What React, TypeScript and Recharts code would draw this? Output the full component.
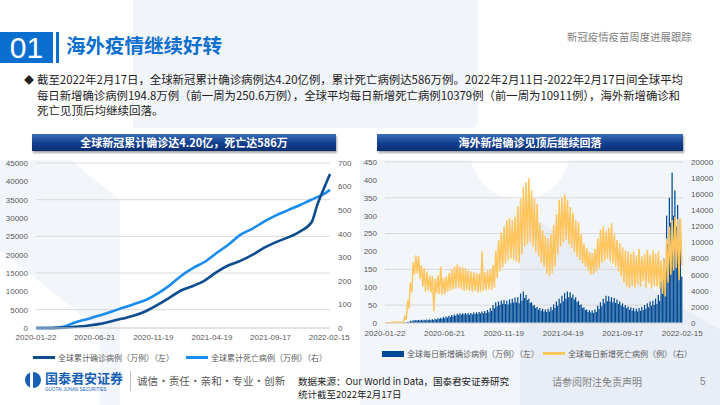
import React from "react";
import { ComposedChart, Line, Bar, XAxis, YAxis, CartesianGrid } from "recharts";

const BLUE = "#0b6fd0";
const CJK = '"Noto Sans CJK SC", "Noto Sans", sans-serif';
const NUM = '"Liberation Sans", "Noto Sans", sans-serif';

// x 轴：自 2020-01-22 起的天数
const tickDays = [0, 151, 302, 453, 604, 755];
const tickLabels = ["2020-01-22", "2020-06-21", "2020-11-19", "2021-04-19", "2021-09-17", "2022-02-15"];

// 左图：累计（万例）
const cumDays = [0, 10, 39, 70, 100, 131, 161, 192, 223, 253, 284, 314, 345, 376, 404, 435, 465, 496, 526, 557, 588, 618, 649, 679, 710, 724, 741, 757];
const cumCases = [0.06, 1.2, 8.8, 93, 340, 630, 1060, 1780, 2560, 3400, 4650, 6350, 8380, 10370, 11460, 13000, 15250, 17100, 18300, 19920, 21900, 23430, 24700, 26300, 28900, 33500, 38000, 42000];
const cumDeaths = [0.002, 0.03, 0.3, 4.7, 23.5, 37.5, 51.5, 68, 85.5, 101.5, 120, 147, 182, 224, 254, 281, 318, 354, 395, 421, 452, 478, 500, 521, 545, 555, 568, 586];

// 右图：每周两点（周中高点 / 周末低点）
const caseHi = [
  0.1, 0.3, 0.4, 1.5, 0.2, 0.2, 0.3, 1.5, 3.0, 6.0,
  8.0, 8.5, 8.5, 8.8, 9.0, 9.5, 10.0, 10.5, 12.0, 13.5,
  14.5, 16.5, 18.0, 20.0, 22.5, 24.0, 26.0, 27.0, 27.5, 28.0,
  27.5, 28.0, 29.0, 30.0, 31.0, 32.0, 33.5, 36.0, 41.0, 50.0,
  58.0, 60.0, 63.0, 64.0, 62.0, 66.0, 68.0, 71.0, 72.0, 82.0,
  88.0, 78.0, 68.0, 58.0, 50.0, 45.0, 42.0, 40.0, 38.0, 40.0,
  45.0, 52.0, 60.0, 68.0, 76.0, 84.0, 88.0, 86.0, 80.0, 72.0,
  62.0, 52.0, 44.0, 38.0, 36.0, 35.0, 38.0, 48.0, 58.0, 68.0,
  76.0, 75.0, 72.0, 70.0, 66.0, 60.0, 55.0, 50.0, 46.0, 44.0,
  42.0, 40.0, 42.0, 45.0, 50.0, 55.0, 60.0, 62.0, 68.0, 78.0,
  115, 180, 300, 350, 420, 370, 330, 290,
];
const caseLo = [
  0.06, 0.2, 0.3, 0.4, 0.1, 0.1, 0.2, 1.0, 2.2, 4.5,
  6.5, 7.0, 7.0, 7.2, 7.5, 7.8, 8.0, 8.5, 9.5, 11.0,
  12.0, 13.5, 15.0, 17.0, 19.0, 20.5, 22.0, 23.0, 23.5, 24.0,
  23.0, 24.0, 25.0, 26.0, 27.0, 27.0, 28.0, 30.0, 34.0, 41.0,
  47.0, 50.0, 54.0, 53.0, 52.0, 55.0, 57.0, 58.0, 55.0, 62.0,
  70.0, 64.0, 56.0, 48.0, 42.0, 37.0, 34.0, 32.0, 31.0, 32.0,
  36.0, 42.0, 48.0, 55.0, 61.0, 68.0, 72.0, 71.0, 66.0, 59.0,
  50.0, 42.0, 36.0, 31.0, 29.0, 28.0, 31.0, 39.0, 47.0, 55.0,
  61.0, 60.0, 58.0, 56.0, 53.0, 49.0, 45.0, 41.0, 37.0, 35.0,
  33.0, 32.0, 34.0, 36.0, 40.0, 44.0, 48.0, 50.0, 54.0, 62.0,
  90, 130, 220, 280, 300, 270, 190, 130,
];
const deathHi = [
  20, 45, 70, 110, 150, 130, 90, 800, 2800, 5000,
  7500, 8400, 8300, 7200, 6800, 6400, 5900, 5800, 5500, 5900,
  7000, 5600, 5800, 6200, 6600, 7000, 7300, 7000, 6900, 6800,
  6500, 6400, 6300, 6200, 6100, 8900, 6300, 6500, 6700, 7200,
  9000, 10300, 11200, 12000, 12800, 13000, 12800, 13200, 14500, 15500,
  16900, 17500, 18000, 16500, 15500, 14800, 12400, 11500, 10800, 10500,
  11000, 12200, 13500, 15300, 15600, 16000, 15300, 14400, 13700, 12800,
  12500, 11000, 9900, 9300, 8800, 8700, 9200, 10500, 11600, 12000,
  11500, 11800, 12400, 11000, 10300, 9900, 9400, 9000, 8900, 8600,
  8900, 8400, 9200, 8300, 8600, 9100, 8500, 9000, 8600, 8900,
  7800, 8000, 10500, 12000, 12800, 13200, 12900, 13000,
];
const deathLo = [
  10, 30, 50, 80, 100, 90, 60, 400, 1800, 3800,
  6000, 6200, 5500, 4500, 3900, 4000, 3800, 1500, 3700, 3600,
  3500, 3600, 3900, 4000, 4200, 4300, 4400, 4200, 4000, 4100,
  4000, 3900, 4000, 3800, 3900, 4000, 4100, 4200, 4100, 4400,
  5600, 6400, 6900, 7400, 7800, 8000, 7800, 7600, 7500, 8500,
  9500, 9800, 10000, 9500, 8800, 8300, 7500, 7000, 6100, 5800,
  6200, 7000, 8500, 9500, 10000, 10300, 9800, 9300, 8800, 8200,
  7800, 7400, 7000, 6500, 6000, 6100, 6400, 6800, 7500, 7700,
  8000, 7600, 7400, 7000, 6400, 5800, 5000, 4500, 4300, 4600,
  4400, 4800, 4500, 5200, 4400, 4900, 4300, 4600, 4500, 4300,
  3600, 3300, 5000, 6000, 6500, 6800, 5300, 7200,
];

const cumData = cumDays.map((day, i) => ({ day, cases: cumCases[i], deaths: cumDeaths[i] }));

const dailyData: { day: number; cases: number; deaths: number }[] = [];
caseHi.forEach((_, w) => {
  dailyData.push({ day: w * 7 + 1.5, cases: caseHi[w], deaths: deathHi[w] });
  dailyData.push({ day: w * 7 + 5, cases: caseLo[w], deaths: deathLo[w] });
});

const tickStyle = { fontSize: 8, fill: "#595959", fontFamily: NUM };
const fmtDay = (v: number) => tickLabels[tickDays.indexOf(v)] ?? "";

const Banner = ({ left, width, text }: { left: number; width: number; text: string }) => (
  <div
    style={{
      position: "absolute",
      left,
      top: 134,
      width,
      height: 17,
      background: "linear-gradient(#3b6cb8, #123f8e 55%, #0a2f72)",
      boxShadow: "1px 2px 2px rgba(0,0,0,0.35)",
      color: "#fff",
      fontSize: 11,
      fontWeight: 700,
      lineHeight: "17px",
      textAlign: "center",
      fontFamily: CJK,
    }}
  >
    {text}
  </div>
);

const LegendItem = ({ left, top, kind, color, text }: { left: number; top: number; kind: "line" | "box"; color: string; text: string }) => (
  <div style={{ position: "absolute", left, top, display: "flex", alignItems: "center", whiteSpace: "nowrap" }}>
    <div style={{ width: 22, height: kind === "line" ? 3 : 6, background: color, marginRight: 3 }} />
    <span style={{ fontSize: 8, color: "#595959", fontFamily: CJK }}>{text}</span>
  </div>
);

export default function App() {
  return (
    <div style={{ position: "absolute", left: 0, top: 0, width: 720, height: 405, overflow: "hidden", background: "#fff", fontFamily: CJK }}>
      <svg width={720} height={405} style={{ position: "absolute", left: 0, top: 0 }}>
        <rect x={133} y={0} width={345} height={128} fill="#f1f4f9" />
        <polygon points="0,160 70,160 120,200 120,405 0,405" fill="#f2f5f9" />
        <polygon points="0,250 100,330 100,405 0,405" fill="#fff" />
        <polygon points="360,160 720,160 720,405 360,405" fill="#f2f5f9" />
        <circle cx={520} cy={150} r={50} fill="#fff" />
        <polygon points="520,210 720,330 720,405 520,405" fill="#e9eef6" />
      </svg>

      {/* 页眉 */}
      <div style={{ position: "absolute", left: 0, top: 32, width: 53, height: 31, background: BLUE, color: "#fff", fontSize: 30, lineHeight: "31px", textAlign: "center", fontFamily: NUM }}>01</div>
      <div style={{ position: "absolute", left: 56, top: 32, width: 3, height: 31, background: BLUE }} />
      <div style={{ position: "absolute", left: 66, top: 34, fontSize: 19.5, lineHeight: "22px", fontWeight: 700, color: BLUE }}>海外疫情继续好转</div>
      <div style={{ position: "absolute", left: 567, top: 30, fontSize: 10.4, lineHeight: "14px", color: "#808080" }}>新冠疫情疫苗周度进展跟踪</div>

      <svg width={720} height={40} style={{ position: "absolute", left: 0, top: 72 }}>
        <text x={24} y={12} fontSize={10} fill="#222">◆</text>
        <text x={37} y={12} fontSize={11.5} fill="#222" textLength={646} lengthAdjust="spacingAndGlyphs">截至2022年2月17日，全球新冠累计确诊病例达4.20亿例，累计死亡病例达586万例。2022年2月11日-2022年2月17日间全球平均</text>
        <text x={37} y={28} fontSize={11.5} fill="#222" textLength={643} lengthAdjust="spacingAndGlyphs">每日新增确诊病例194.8万例（前一周为250.6万例），全球平均每日新增死亡病例10379例（前一周为10911例），海外新增确诊和</text>
      </svg>
      <svg width={200} height={20} style={{ position: "absolute", left: 0, top: 103 }}>
        <text x={37} y={12} fontSize={11.5} fill="#222">死亡见顶后均继续回落。</text>
      </svg>

      <Banner left={32} width={304} text="全球新冠累计确诊达4.20亿，死亡达586万" />
      <Banner left={377} width={306} text="海外新增确诊见顶后继续回落" />

      {/* 左图 */}
      <div style={{ position: "absolute", left: 0, top: 155 }}>
        <ComposedChart width={360} height={190} data={cumData} margin={{ top: 8, right: 0, bottom: 0, left: 0 }}>
          <CartesianGrid vertical={false} stroke="#d9d9d9" yAxisId="l" />
          <XAxis dataKey="day" type="number" domain={[0, 757]} ticks={tickDays} tickFormatter={fmtDay} interval={0} height={17} tickSize={4} tickMargin={2} tickLine={false} axisLine={{ stroke: "#d9d9d9" }} tick={tickStyle} />
          <YAxis yAxisId="l" domain={[0, 45000]} ticks={[0, 5000, 10000, 15000, 20000, 25000, 30000, 35000, 40000, 45000]} width={36} axisLine={false} tickLine={false} tick={tickStyle} />
          <YAxis yAxisId="r" orientation="right" domain={[0, 700]} ticks={[0, 100, 200, 300, 400, 500, 600, 700]} width={30} axisLine={false} tickLine={false} tick={tickStyle} />
          <Line yAxisId="r" dataKey="deaths" type="monotone" stroke="#1a8cf0" strokeWidth={2.6} dot={false} isAnimationActive={false} />
          <Line yAxisId="l" dataKey="cases" type="monotone" stroke="#0c4c8f" strokeWidth={2.6} dot={false} isAnimationActive={false} />
        </ComposedChart>
      </div>

      {/* 右图 */}
      <div style={{ position: "absolute", left: 360, top: 155 }}>
        <ComposedChart width={360} height={190} data={dailyData} margin={{ top: 7, right: 0, bottom: 0, left: 0 }}>
          <CartesianGrid vertical={false} stroke="#d9d9d9" yAxisId="l" />
          <XAxis dataKey="day" type="number" domain={[0, 757]} ticks={tickDays} tickFormatter={fmtDay} interval={0} height={22} tickSize={4} tickMargin={3} tickLine={false} axisLine={{ stroke: "#d9d9d9" }} tick={tickStyle} />
          <YAxis yAxisId="l" domain={[0, 450]} ticks={[0, 50, 100, 150, 200, 250, 300, 350, 400, 450]} width={25} axisLine={false} tickLine={false} tick={tickStyle} />
          <YAxis yAxisId="r" orientation="right" domain={[0, 20000]} ticks={[0, 2000, 4000, 6000, 8000, 10000, 12000, 14000, 16000, 18000, 20000]} width={37} axisLine={false} tickLine={false} tick={tickStyle} />
          <Bar yAxisId="l" dataKey="cases" fill="#004a94" barSize={2.1} isAnimationActive={false} />
          <Line yAxisId="r" dataKey="deaths" type="linear" stroke="#ffc55e" strokeWidth={1.5} dot={false} isAnimationActive={false} />
        </ComposedChart>
      </div>

      {/* 图例 */}
      <LegendItem left={33} top={352} kind="line" color="#0c4c8f" text="全球累计确诊病例（万例）（左）" />
      <LegendItem left={186} top={352} kind="line" color="#1a8cf0" text="全球累计死亡病例（万例）（右）" />
      <LegendItem left={382} top={348} kind="box" color="#004a94" text="全球每日新增确诊病例（万例）（左）" />
      <LegendItem left={543} top={348} kind="line" color="#ffc55e" text="全球每日新增死亡病例（例）（右）" />

      {/* 页脚 */}
      <svg width={20} height={20} style={{ position: "absolute", left: 24, top: 371 }}>
        <circle cx={9} cy={9} r={8} fill="#1760b4" />
        <rect x={6} y={1} width={3} height={16} fill="#fff" />
      </svg>
      <div style={{ position: "absolute", left: 45, top: 371, fontSize: 13, lineHeight: "14px", fontWeight: 700, color: "#1760b4" }}>国泰君安证券</div>
      <div style={{ position: "absolute", left: 45, top: 387, fontSize: 4.5, lineHeight: "5px", color: "#1760b4", fontFamily: NUM }}>GUOTAI JUNAN SECURITIES</div>
      <div style={{ position: "absolute", left: 130, top: 371, width: 1, height: 20, background: "#bfbfbf" }} />
      <div style={{ position: "absolute", left: 137, top: 374, fontSize: 10.6, lineHeight: "14px", color: "#595959", whiteSpace: "nowrap" }}>诚信·责任·亲和·专业·创新</div>
      <div style={{ position: "absolute", left: 298, top: 376, fontSize: 9.5, lineHeight: "11px", color: "#222" }}>数据来源：Our World in Data，国泰君安证券研究</div>
      <div style={{ position: "absolute", left: 298, top: 389, fontSize: 9.5, lineHeight: "11px", color: "#222" }}>统计截至2022年2月17日</div>
      <div style={{ position: "absolute", left: 552, top: 376, fontSize: 10, lineHeight: "12px", color: "#7f7f7f" }}>请参阅附注免责声明</div>
      <div style={{ position: "absolute", left: 700, top: 376, fontSize: 10, lineHeight: "12px", color: "#7f7f7f", fontFamily: NUM }}>5</div>
    </div>
  );
}
